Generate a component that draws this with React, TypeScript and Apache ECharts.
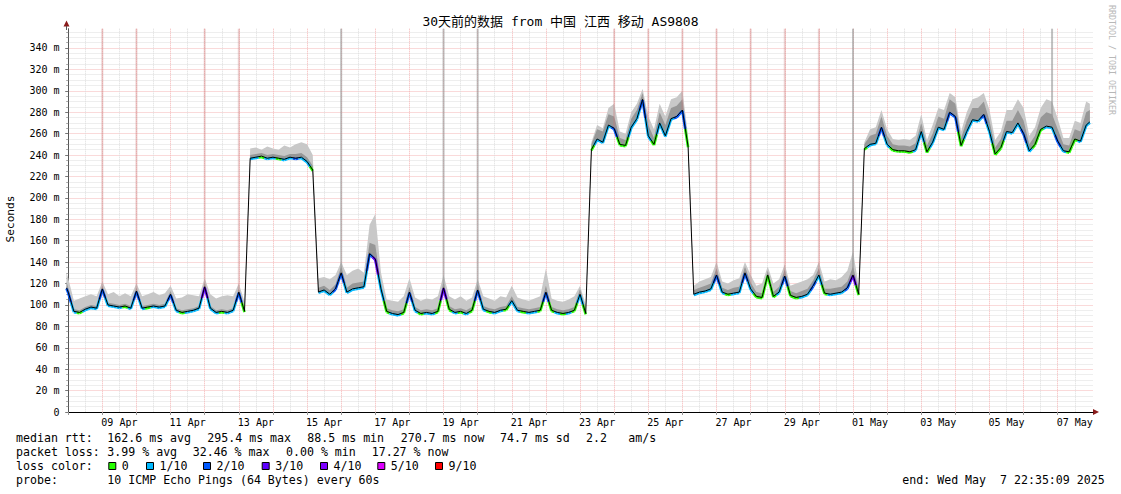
import React, { useEffect, useRef } from 'react';
import * as echarts from 'echarts';

// ---- time frame (hours relative to 08 Apr 00:00) ----
const AXIS_MIN_H = -1.2;
const AXIS_MAX_H = 720.8;
const LAST_H = 718.6; // 07 May 22:35
const STEP_H = 4;

// ---- median RTT (ms): start, then every 4 h from 08 Apr 00:00, then "now" ----
const medianMs = [
  116,
  112, 94, 93, 96, 98, 97, // 08 Apr
  115, 100, 99, 98, 99, 97, // 09 Apr
  113, 97, 98, 99, 98, 99, // 10 Apr
  110, 95, 93, 94, 95, 97, // 11 Apr
  117, 97, 93, 94, 93, 95, // 12 Apr
  112, 94, 237, 238, 239, 237, // 13 Apr
  238, 237, 236, 238, 237, 238, // 14 Apr
  234, 226, 112, 114, 110, 115, // 15 Apr
  130, 112, 115, 116, 117, 148, // 16 Apr
  143, 115, 94, 92, 91, 93, // 17 Apr
  112, 95, 92, 93, 92, 94, // 18 Apr
  116, 96, 93, 94, 92, 95, // 19 Apr
  114, 96, 94, 93, 95, 96, // 20 Apr
  104, 95, 94, 93, 94, 95, // 21 Apr
  112, 95, 93, 92, 93, 95, // 22 Apr
  110, 92, 245, 255, 252, 268, // 23 Apr
  265, 250, 249, 266, 274, 292, // 24 Apr
  258, 250, 270, 258, 274, 276, // 25 Apr
  282, 248, 110, 112, 113, 115, // 26 Apr
  128, 112, 110, 111, 112, 130, // 27 Apr
  115, 108, 107, 128, 108, 112, // 28 Apr
  127, 109, 107, 108, 110, 118, // 29 Apr
  128, 111, 110, 111, 112, 116, // 30 Apr
  128, 110, 246, 250, 251, 266, // 01 May
  250, 245, 244, 244, 243, 245, // 02 May
  262, 243, 252, 266, 264, 280, // 03 May
  276, 249, 262, 273, 272, 278, // 04 May
  262, 241, 247, 262, 261, 270, // 05 May
  260, 244, 250, 264, 267, 266, // 06 May
  253, 244, 243, 255, 253, 268, // 07 May
  271,
];

// ---- dense (dark) smoke upper edge (ms) ----
const smokeDarkMs = [
  122,
  116, 96, 95, 98, 100, 99,
  118, 102, 101, 100, 101, 99,
  116, 99, 100, 101, 100, 101,
  113, 97, 95, 96, 97, 99,
  121, 99, 95, 96, 95, 97,
  115, 96, 240, 241, 242, 240,
  241, 240, 239, 241, 241, 242,
  238, 230, 116, 118, 114, 119,
  136, 116, 120, 121, 122, 158,
  156, 119, 97, 95, 94, 96,
  117, 98, 95, 96, 95, 97,
  121, 99, 96, 97, 95, 98,
  119, 99, 97, 96, 98, 99,
  108, 98, 97, 96, 97, 98,
  118, 98, 96, 95, 96, 98,
  115, 95, 250, 264, 262, 278,
  276, 256, 254, 274, 282, 298,
  268, 256, 280, 268, 284, 286,
  292, 252, 114, 116, 118, 120,
  134, 116, 114, 116, 117, 136,
  121, 112, 111, 132, 112, 117,
  133, 113, 111, 113, 115, 123,
  134, 115, 115, 116, 117, 122,
  136, 114, 250, 258, 260, 276,
  258, 250, 249, 249, 248, 251,
  270, 249, 260, 276, 274, 292,
  288, 256, 272, 284, 284, 290,
  272, 247, 255, 272, 272, 282,
  272, 250, 258, 275, 280, 278,
  264, 250, 249, 264, 262, 280,
  282,
];

// ---- light smoke upper edge (ms) ----
const smokeLightMs = [
  130,
  125, 104, 106, 108, 110, 108,
  122, 110, 112, 108, 111, 108,
  120, 108, 110, 112, 109, 111,
  118, 106, 107, 110, 109, 108,
  125, 110, 106, 108, 109, 108,
  120, 103, 246, 247, 245, 248,
  246, 245, 249, 247, 250, 252,
  250, 240, 125, 126, 124, 128,
  140, 128, 132, 134, 130, 175,
  185, 130, 105, 104, 103, 108,
  125, 107, 104, 106, 105, 108,
  128, 108, 105, 108, 104, 107,
  124, 108, 106, 104, 108, 107,
  118, 107, 105, 104, 106, 108,
  134, 106, 104, 103, 105, 108,
  118, 100, 252, 268, 265, 284,
  288, 262, 260, 280, 288, 302,
  276, 264, 288, 276, 292, 294,
  300, 258, 118, 122, 124, 126,
  140, 122, 120, 123, 125, 140,
  128, 118, 120, 136, 120, 124,
  138, 118, 120, 122, 124, 128,
  140, 122, 124, 123, 126, 132,
  150, 118, 252, 264, 266, 282,
  264, 255, 254, 255, 254, 258,
  278, 254, 268, 284, 282, 298,
  294, 262, 280, 292, 294, 298,
  282, 254, 262, 282, 282, 292,
  284, 258, 266, 284, 292, 290,
  274, 256, 256, 272, 270, 290,
  288,
];

// ---- packet loss (lost pings out of 10) ----
const lossTenths = [
  2,
  2, 1, 0, 1, 1, 1,
  2, 1, 1, 1, 0, 1,
  2, 1, 0, 1, 1, 1,
  2, 1, 0, 1, 1, 1,
  3, 1, 1, 0, 1, 1,
  2, 0, 1, 1, 0, 1,
  1, 0, 1, 1, 2, 1,
  1, 0, 1, 1, 1, 2,
  2, 1, 1, 1, 1, 2,
  3, 1, 0, 1, 1, 0,
  2, 1, 0, 1, 1, 0,
  3, 0, 1, 0, 1, 0,
  2, 1, 0, 1, 1, 0,
  1, 1, 0, 1, 1, 0,
  2, 0, 1, 0, 1, 0,
  1, 0, 0, 1, 1, 1,
  2, 0, 0, 1, 1, 2,
  1, 0, 1, 1, 1, 2,
  2, 0, 1, 1, 1, 1,
  2, 1, 0, 1, 1, 2,
  1, 0, 0, 0, 0, 1,
  2, 0, 0, 1, 1, 2,
  1, 0, 1, 1, 1, 2,
  3, 0, 0, 1, 1, 2,
  1, 0, 0, 0, 0, 1,
  1, 0, 1, 1, 1, 2,
  2, 0, 1, 1, 1, 2,
  1, 0, 0, 1, 1, 1,
  2, 1, 0, 0, 1, 1,
  2, 1, 0, 0, 1, 1,
  1,
];

// ---- tall smoke columns (hour, top ms) ----
const faintSpikeHours = [24, 48, 96, 120, 384, 408, 432, 456, 480, 504, 528];
const faintSpikeTops = [358, 358, 358, 358, 358, 358, 358, 358, 358, 358, 358];
const denseSpikeHours = [192, 264, 288, 552, 692];
const denseSpikeTops = [358, 358, 358, 358, 358];

// ---- axis texts ----
const dayLabels = ['09 Apr', '11 Apr', '13 Apr', '15 Apr', '17 Apr', '19 Apr', '21 Apr', '23 Apr', '25 Apr', '27 Apr', '29 Apr', '01 May', '03 May', '05 May', '07 May'];
const yMajor = [0, 20, 40, 60, 80, 100, 120, 140, 160, 180, 200, 220, 240, 260, 280, 300, 320, 340];
const Y_MAX = 358;

// ---- legend texts ----
const lossSteps = [0, 1, 2, 3, 4, 5, 9];
const lossLegend = ['0', '1/10', '2/10', '3/10', '4/10', '5/10', '9/10'];
const lossColors = ['#26ff00', '#00b8ff', '#0059ff', '#5e00ff', '#7e00ff', '#dd00ff', '#ff0000'];
const titleText = '30天前的数据 from 中国 江西 移动 AS9808';
const row1 = ['median rtt:', '162.6 ms avg', '295.4 ms max', '88.5 ms min', '270.7 ms now', '74.7 ms sd', '2.2', 'am/s'];
const row2 = ['packet loss:', '3.99 % avg', '32.46 % max', '0.00 % min', '17.27 % now'];
const row4 = ['probe:', '10 ICMP Echo Pings (64 Bytes) every 60s'];
const endText = ['end: Wed May', '7 22:35:09 2025'];

// ---- layout (pixels) ----
const row1X = [16, 107.3, 207.3, 307.3, 400.7, 500, 586, 628.3];
const row2X = [16, 107.3, 192.7, 286, 371.7];
const row4X = [16, 107.3];
const endX = [902.3, 1000];
const boxX = [108.3, 146, 203, 261.7, 320, 377.3, 435];
const rowY = [437.5, 452, 466, 480];
const MONO = "'DejaVu Sans Mono', 'Noto Sans CJK SC', monospace";
const MAJOR_GRID = '#f5b4b4';
const MINOR_GRID = '#dcdcdc';

const times: number[] = [AXIS_MIN_H];
for (let k = 0; k < medianMs.length - 2; k++) times.push(k * STEP_H);
times.push(LAST_H);

function lossColor(l: number) {
  let c = lossColors[0];
  lossSteps.forEach((s, i) => {
    if (l >= s) c = lossColors[i];
  });
  return c;
}

function medianAt(h: number) {
  let best = 0;
  times.forEach((t, i) => {
    if (Math.abs(t - h) < Math.abs(times[best] - h)) best = i;
  });
  return medianMs[best];
}

function bandSeries(lower: number[], upper: number[], fill: string) {
  return {
    type: 'custom',
    silent: true,
    data: [[times[0], lower[0]]],
    renderItem: (_p: any, api: any) => {
      const pts: number[][] = [];
      for (let i = 0; i < times.length; i++) pts.push(api.coord([times[i], upper[i]]));
      for (let i = times.length - 1; i >= 0; i--) pts.push(api.coord([times[i], lower[i]]));
      return { type: 'polygon', shape: { points: pts }, style: { fill } };
    },
  };
}

function spikeSeries(hours: number[], tops: number[], fill: string, width: number) {
  return {
    type: 'custom',
    silent: true,
    data: hours.map((h, i) => [h, medianAt(h), tops[i]]),
    renderItem: (_p: any, api: any) => {
      const a = api.coord([api.value(0), api.value(1)]);
      const b = api.coord([api.value(0), api.value(2)]);
      return {
        type: 'rect',
        shape: { x: b[0] - width / 2, y: b[1], width, height: a[1] - b[1] },
        style: { fill },
      };
    },
  };
}

function textEl(text: string, x: number, y: number, extra: any = {}) {
  return {
    type: 'text',
    x,
    y,
    silent: true,
    style: {
      text,
      fontFamily: MONO,
      fontSize: 11.6,
      fill: '#000',
      align: 'left',
      verticalAlign: 'middle',
      ...extra,
    },
  };
}

function buildOption() {
  const midnights = Array.from({ length: 30 }, (_, d) => d * 24);
  const noons = Array.from({ length: 30 }, (_, d) => d * 24 + 12);
  const labelHours = dayLabels.map((_, i) => 36 + i * 48);
  const yMinor: number[] = [];
  for (let v = 5; v < Y_MAX; v += 5) if (v % 20 !== 0) yMinor.push(v);

  const graphic: any[] = [];
  graphic.push({
    type: 'text', x: 560.5, y: 21, silent: true,
    style: { text: titleText, fontFamily: MONO, fontSize: 13, fill: '#000', align: 'center', verticalAlign: 'middle' },
  });
  graphic.push({
    type: 'text', x: 10.5, y: 219, rotation: Math.PI / 2, silent: true,
    style: { text: 'Seconds', fontFamily: MONO, fontSize: 11.2, fill: '#000', align: 'center', verticalAlign: 'middle' },
  });
  graphic.push({
    type: 'text', x: 1111.5, y: 60, rotation: -Math.PI / 2, silent: true,
    style: { text: 'RRDTOOL / TOBI OETIKER', fontFamily: MONO, fontSize: 8.3, fill: '#b8b8b8', align: 'center', verticalAlign: 'middle' },
  });
  row1.forEach((t, i) => graphic.push(textEl(t, row1X[i], rowY[0])));
  row2.forEach((t, i) => graphic.push(textEl(t, row2X[i], rowY[1])));
  graphic.push(textEl('loss color:', 16, rowY[2]));
  lossLegend.forEach((t, i) => {
    graphic.push({
      type: 'rect', silent: true,
      shape: { x: boxX[i] + 0.5, y: rowY[2] - 3.5, width: 7, height: 7 },
      style: { fill: lossColors[i], stroke: '#000', lineWidth: 1 },
    });
    graphic.push(textEl(t, boxX[i] + 13.5, rowY[2]));
  });
  row4.forEach((t, i) => graphic.push(textEl(t, row4X[i], rowY[3])));
  endText.forEach((t, i) => graphic.push(textEl(t, endX[i], rowY[3])));
  // axis arrows
  graphic.push({ type: 'polygon', silent: true, shape: { points: [[63.5, 26.5], [69.5, 26.5], [66.5, 20.5]] }, style: { fill: '#8b1c1c' } });
  graphic.push({ type: 'polygon', silent: true, shape: { points: [[1093, 409], [1093, 415], [1099, 412]] }, style: { fill: '#8b1c1c' } });
  graphic.push({ type: 'line', silent: true, shape: { x1: 66.5, y1: 26, x2: 66.5, y2: 30 }, style: { stroke: '#555', lineWidth: 1 } });

  // loss-coloured median path pieces: half a step either side of each sample
  const segData = times.map((t, i) => [
    i > 0 ? (times[i - 1] + t) / 2 : t,
    i > 0 ? (medianMs[i - 1] + medianMs[i]) / 2 : medianMs[i],
    t,
    medianMs[i],
    i < times.length - 1 ? (times[i + 1] + t) / 2 : t,
    i < times.length - 1 ? (medianMs[i + 1] + medianMs[i]) / 2 : medianMs[i],
    lossTenths[i],
  ]);

  return {
    animation: false,
    backgroundColor: '#ffffff',
    grid: { left: 66.5, right: 28, top: 28.7, bottom: 82, containLabel: false, outerBoundsMode: 'none' },
    xAxis: [
      {
        type: 'value', position: 'bottom', min: AXIS_MIN_H, max: AXIS_MAX_H,
        axisLine: { show: true, lineStyle: { color: '#000', width: 1 } },
        axisTick: { show: true, customValues: midnights, length: 3, lineStyle: { color: '#999' } },
        axisLabel: {
          show: true, customValues: labelHours, margin: 5,
          formatter: (v: number) => dayLabels[labelHours.indexOf(Math.round(v))] || '',
          fontFamily: MONO, fontSize: 10, color: '#000',
        },
        splitLine: { show: true, lineStyle: { color: MAJOR_GRID, width: 1, type: [1, 1] } },
      },
      {
        type: 'value', position: 'bottom', min: AXIS_MIN_H, max: AXIS_MAX_H,
        axisLine: { show: false },
        axisTick: { show: false, customValues: noons },
        axisLabel: { show: false },
        splitLine: { show: true, lineStyle: { color: MINOR_GRID, width: 1, type: [1, 1] } },
      },
    ],
    yAxis: [
      {
        type: 'value', position: 'left', min: 0, max: Y_MAX,
        axisLine: { show: true, lineStyle: { color: '#555', width: 1 } },
        axisTick: { show: true, customValues: yMajor, length: 3, lineStyle: { color: '#777' } },
        axisLabel: {
          show: true, customValues: yMajor, margin: 7,
          formatter: (v: number) => (v === 0 ? '0' : `${v} m`),
          fontFamily: MONO, fontSize: 10, color: '#000',
        },
        splitLine: { show: true, lineStyle: { color: MAJOR_GRID, width: 1, type: [1, 1] } },
      },
      {
        type: 'value', position: 'left', min: 0, max: Y_MAX,
        axisLine: { show: false },
        axisTick: { show: true, customValues: yMinor, length: 2, lineStyle: { color: '#aaa' } },
        axisLabel: { show: false },
        splitLine: { show: true, lineStyle: { color: MINOR_GRID, width: 1, type: [1, 1] } },
      },
    ],
    graphic,
    series: [
      bandSeries(medianMs, smokeLightMs, '#c8c8c8'),
      bandSeries(medianMs, smokeDarkMs, '#979797'),
      spikeSeries(faintSpikeHours, faintSpikeTops, 'rgba(200,120,120,0.35)', 2),
      spikeSeries(denseSpikeHours, denseSpikeTops, 'rgba(150,150,150,0.6)', 2),
      {
        type: 'custom',
        silent: true,
        data: segData,
        renderItem: (_p: any, api: any) => {
          const a = api.coord([api.value(0), api.value(1)]);
          const b = api.coord([api.value(2), api.value(3)]);
          const c = api.coord([api.value(4), api.value(5)]);
          const color = lossColor(api.value(6));
          const piece = (p: number[], q: number[]) => ({
            type: 'line',
            shape: { x1: p[0], y1: p[1] + 0.8, x2: q[0], y2: q[1] + 0.8 },
            style: { stroke: Math.abs(p[1] - q[1]) > 25 ? 'rgba(0,0,0,0)' : color, lineWidth: 2.6 },
          });
          return { type: 'group', children: [piece(a, b), piece(b, c)] };
        },
      },
      {
        type: 'line',
        silent: true,
        data: times.map((t, i) => [t, medianMs[i]]),
        showSymbol: false,
        symbol: 'none',
        lineStyle: { color: '#000', width: 1 },
      },
    ],
  };
}

export default function App() {
  const ref = useRef<HTMLDivElement>(null);
  useEffect(() => {
    const chart = echarts.init(ref.current as HTMLDivElement, null, { renderer: 'svg' });
    chart.setOption(buildOption() as any);
    return () => chart.dispose();
  }, []);
  return (
    <div
      ref={ref}
      style={{ position: 'fixed', left: 0, top: 0, width: 1121, height: 494, background: '#fff' }}
    />
  );
}
